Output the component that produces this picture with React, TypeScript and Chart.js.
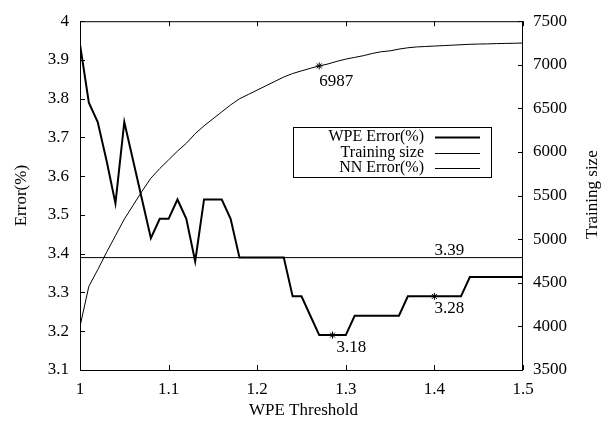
import React, { useEffect, useRef } from "react";
import { Chart, registerables } from "chart.js";

Chart.register(...registerables);

const thresholds = [
  1.0, 1.01, 1.02, 1.03, 1.04, 1.05, 1.06, 1.07, 1.08, 1.09,
  1.1, 1.11, 1.12, 1.13, 1.14, 1.15, 1.16, 1.17, 1.18, 1.19,
  1.2, 1.21, 1.22, 1.23, 1.24, 1.25, 1.26, 1.27, 1.28, 1.29,
  1.3, 1.31, 1.32, 1.33, 1.34, 1.35, 1.36, 1.37, 1.38, 1.39,
  1.4, 1.41, 1.42, 1.43, 1.44, 1.45, 1.46, 1.47, 1.48, 1.49, 1.5,
];

const wpeError = [
  3.94, 3.79, 3.74, 3.64, 3.53, 3.74, 3.64, 3.54, 3.44, 3.49,
  3.49, 3.54, 3.49, 3.38, 3.54, 3.54, 3.54, 3.49, 3.39, 3.39,
  3.39, 3.39, 3.39, 3.39, 3.29, 3.29, 3.24, 3.19, 3.19, 3.19,
  3.19, 3.24, 3.24, 3.24, 3.24, 3.24, 3.24, 3.29, 3.29, 3.29,
  3.29, 3.29, 3.29, 3.29, 3.34, 3.34, 3.34, 3.34, 3.34, 3.34, 3.34,
];

const trainingSize = [
  4000, 4460, 4650, 4850, 5040, 5230, 5390, 5550, 5700, 5810,
  5910, 6010, 6100, 6210, 6300, 6380, 6460, 6540, 6610, 6660,
  6710, 6760, 6810, 6860, 6900, 6930, 6960, 6987, 7010, 7040,
  7065, 7085, 7105, 7130, 7150, 7160, 7180, 7195, 7205, 7210,
  7215, 7220, 7225, 7230, 7235, 7238, 7240, 7243, 7245, 7247, 7250,
];

const nnErrorX = [1.0, 1.5];
const nnErrorY = [3.39, 3.39];

// annotated points
const errMarkX = [1.285, 1.4];
const errMarkY = [3.19, 3.29];
const errMarkLabels = ["3.18", "3.28"];
const sizeMarkX = [1.27];
const sizeMarkY = [6987];
const sizeMarkLabels = ["6987"];
const nnLabelX = 1.4;
const nnLabel = "3.39";

const xTitle = "WPE Threshold";
const yTitle = "Error(%)";
const y2Title = "Training size";

const FONT = "Liberation Serif";
const FS = 17;
const LEGEND_FS = 16;

const fmt = (v: any) => String(Math.round(Number(v) * 100) / 100);

export default function App() {
  const ref = useRef<HTMLCanvasElement | null>(null);

  useEffect(() => {
    if (!ref.current) return;

    const framePlugin = {
      id: "gnuplotFrame",
      afterDraw(chart: any) {
        const ctx = chart.ctx;
        const { left, right, top, bottom } = chart.chartArea;
        const xs = chart.scales.x;
        const ys = chart.scales.y;
        const y2s = chart.scales.y2;
        ctx.save();
        ctx.strokeStyle = "#000";
        ctx.lineWidth = 1;
        ctx.strokeRect(left + 0.5, top + 0.5, right - left - 1, bottom - top);
        const TL = 5;
        ctx.beginPath();
        xs.ticks.forEach((t: any) => {
          const px = Math.round(xs.getPixelForValue(t.value)) + 0.5;
          ctx.moveTo(px, bottom);
          ctx.lineTo(px, bottom - TL);
          ctx.moveTo(px, top);
          ctx.lineTo(px, top + TL);
        });
        ys.ticks.forEach((t: any) => {
          const py = Math.round(ys.getPixelForValue(t.value)) + 0.5;
          ctx.moveTo(left, py);
          ctx.lineTo(left + TL, py);
        });
        y2s.ticks.forEach((t: any) => {
          const py = Math.round(y2s.getPixelForValue(t.value)) + 0.5;
          ctx.moveTo(right, py);
          ctx.lineTo(right - TL, py);
        });
        ctx.stroke();

        // annotations
        ctx.fillStyle = "#000";
        ctx.font = `${FS}px "${FONT}"`;
        ctx.textBaseline = "alphabetic";
        ctx.textAlign = "left";
        errMarkX.forEach((x, i) => {
          const px = xs.getPixelForValue(x);
          const py = ys.getPixelForValue(errMarkY[i]);
          ctx.fillText(errMarkLabels[i], px + (i === 0 ? 4 : 0), py + 17);
        });
        sizeMarkX.forEach((x, i) => {
          const px = xs.getPixelForValue(x);
          const py = y2s.getPixelForValue(sizeMarkY[i]);
          ctx.fillText(sizeMarkLabels[i], px, py + 20);
        });
        ctx.fillText(nnLabel, xs.getPixelForValue(nnLabelX), ys.getPixelForValue(nnErrorY[0]) - 3);

        // axis titles
        ctx.textAlign = "center";
        ctx.textBaseline = "middle";
        ctx.fillText(xTitle, (left + right) / 2 + 2, 411);
        ctx.save();
        ctx.translate(22, (top + bottom) / 2);
        ctx.rotate(-Math.PI / 2);
        ctx.fillText(yTitle, 0, 0);
        ctx.restore();
        ctx.save();
        ctx.translate(593, (top + bottom) / 2 - 1);
        ctx.rotate(-Math.PI / 2);
        ctx.fillText(y2Title, 0, 0);
        ctx.restore();

        // legend
        const bx = 293, by = 127, bw = 198, bh = 50;
        ctx.strokeRect(bx + 0.5, by + 0.5, bw, bh);
        const items = chart.data.datasets.slice(0, 3);
        ctx.font = `${LEGEND_FS}px "${FONT}"`;
        ctx.textAlign = "right";
        ctx.textBaseline = "middle";
        items.forEach((ds: any, i: number) => {
          const cy = by + 10 + i * 15.5;
          ctx.fillText(ds.label, 424, cy);
          ctx.beginPath();
          ctx.lineWidth = ds.borderWidth;
          ctx.moveTo(435, Math.round(cy) + 0.5);
          ctx.lineTo(480, Math.round(cy) + 0.5);
          ctx.stroke();
        });
        ctx.restore();
      },
    };

    const tickFont = { family: FONT, size: FS };

    const chart = new Chart(ref.current, {
      type: "line",
      data: {
        datasets: [
          {
            label: "WPE Error(%)",
            data: thresholds.map((x, i) => ({ x, y: wpeError[i] })),
            borderColor: "#000",
            borderWidth: 2,
            pointRadius: 0,
            tension: 0,
            yAxisID: "y",
          },
          {
            label: "Training size",
            data: thresholds.map((x, i) => ({ x, y: trainingSize[i] })),
            borderColor: "#000",
            borderWidth: 1,
            pointRadius: 0,
            tension: 0,
            yAxisID: "y2",
          },
          {
            label: "NN Error(%)",
            data: nnErrorX.map((x, i) => ({ x, y: nnErrorY[i] })),
            borderColor: "#000",
            borderWidth: 1,
            pointRadius: 0,
            tension: 0,
            yAxisID: "y",
          },
          {
            label: "err markers",
            data: errMarkX.map((x, i) => ({ x, y: errMarkY[i] })),
            showLine: false,
            pointStyle: "star",
            pointRadius: 3.5,
            borderColor: "#000",
            borderWidth: 1,
            yAxisID: "y",
          },
          {
            label: "size markers",
            data: sizeMarkX.map((x, i) => ({ x, y: sizeMarkY[i] })),
            showLine: false,
            pointStyle: "star",
            pointRadius: 3.5,
            borderColor: "#000",
            borderWidth: 1,
            yAxisID: "y2",
          },
        ],
      },
      options: {
        animation: false,
        responsive: false,
        maintainAspectRatio: false,
        layout: { padding: { top: 16, left: 0, right: 0, bottom: 0 } },
        plugins: { legend: { display: false }, tooltip: { enabled: false } },
        scales: {
          x: {
            type: "linear",
            min: 1,
            max: 1.5,
            grid: { display: false, drawTicks: false },
            border: { display: false },
            ticks: { stepSize: 0.1, autoSkip: false, color: "#000", font: tickFont, padding: 9, maxRotation: 0, callback: fmt },
            afterFit: (s: any) => { s.height = 51; },
          },
          y: {
            type: "linear",
            position: "left",
            min: 3.1,
            max: 4,
            grid: { display: false, drawTicks: false },
            border: { display: false },
            ticks: { stepSize: 0.1, autoSkip: false, color: "#000", font: tickFont, padding: 11, callback: fmt },
            afterFit: (s: any) => { s.width = 80; },
          },
          y2: {
            type: "linear",
            position: "right",
            min: 3500,
            max: 7500,
            grid: { display: false, drawTicks: false },
            border: { display: false },
            ticks: { stepSize: 500, autoSkip: false, color: "#000", font: tickFont, padding: 10, callback: fmt },
            afterFit: (s: any) => { s.width = 87; },
          },
        },
      },
      plugins: [framePlugin],
    });

    return () => chart.destroy();
  }, []);

  return (
    <div style={{ position: "fixed", left: 0, top: 0, width: 610, height: 421, background: "#fff" }}>
      <canvas ref={ref} width={610} height={421} />
    </div>
  );
}
